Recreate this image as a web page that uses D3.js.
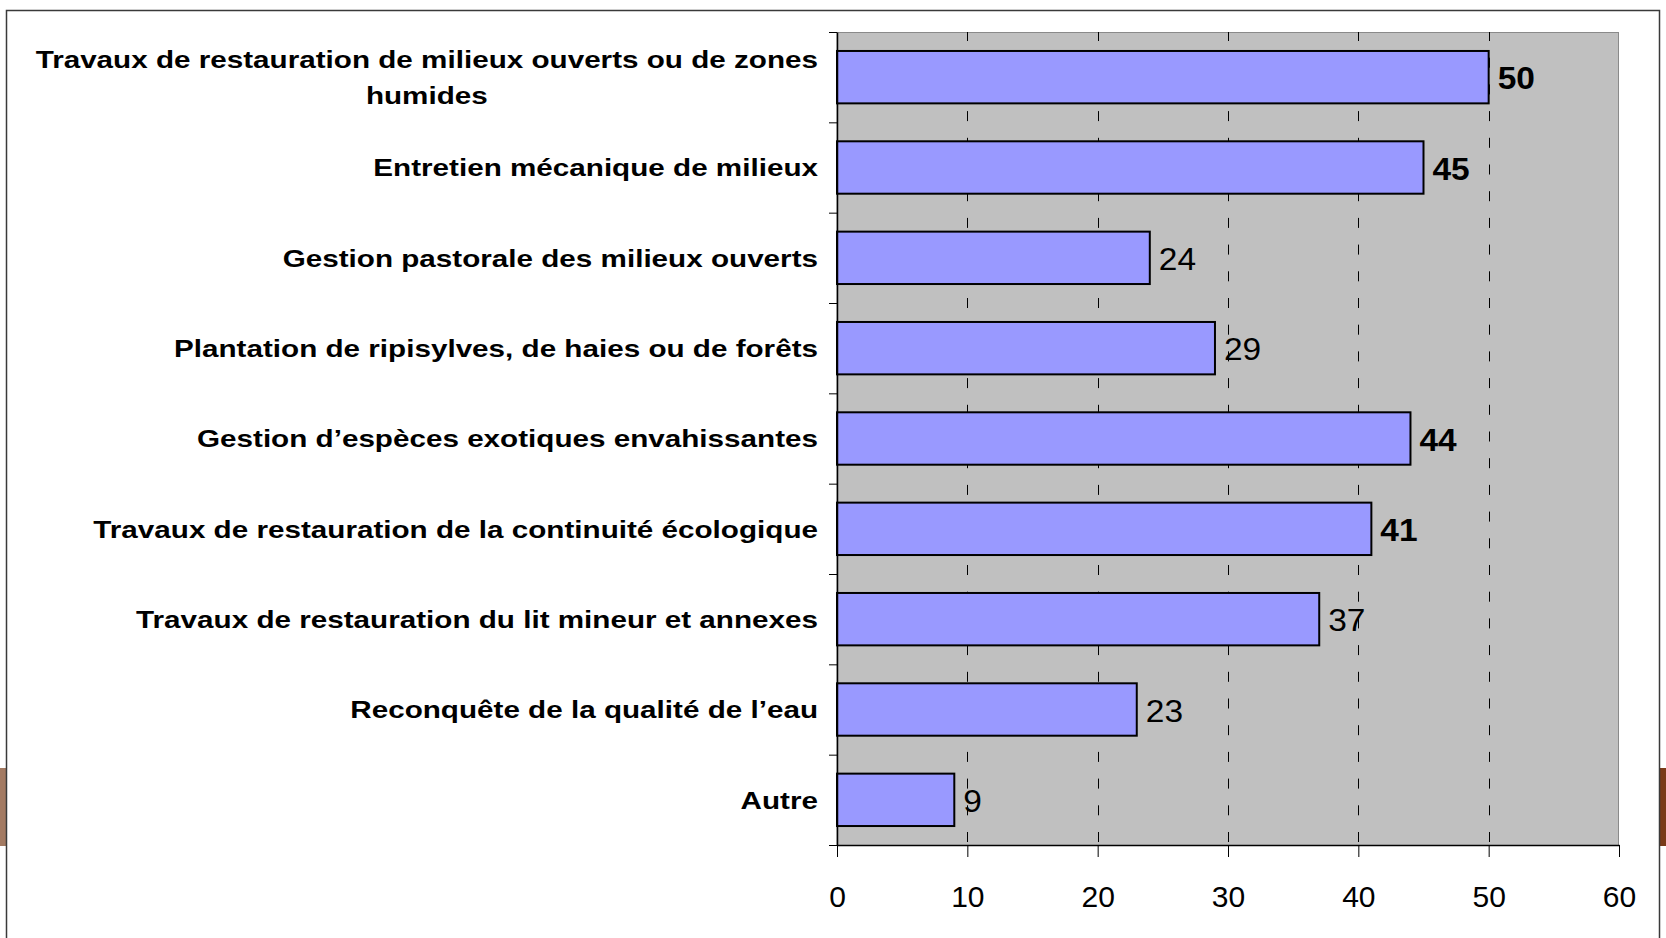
<!DOCTYPE html>
<html>
<head>
<meta charset="utf-8">
<script src="https://cdn.jsdelivr.net/npm/d3@7"></script>
<style>
  html, body { margin: 0; padding: 0; background: #fff; }
  svg { display: block; font-family: "Liberation Sans", Arial, sans-serif; }
</style>
</head>
<body>
<svg id="chart" width="1666" height="938"></svg>
<script>
// categories, top to bottom ("\n" = line break in the label)
const categories = [
  'Travaux de restauration de milieux ouverts ou de zones\nhumides',
  'Entretien mécanique de milieux',
  'Gestion pastorale des milieux ouverts',
  'Plantation de ripisylves, de haies ou de forêts',
  'Gestion d\u2019espèces exotiques envahissantes',
  'Travaux de restauration de la continuité écologique',
  'Travaux de restauration du lit mineur et annexes',
  'Reconquête de la qualité de l\u2019eau',
  'Autre'
]
const values = [50, 45, 24, 29, 44, 41, 37, 23, 9]
const xTicks = [0, 10, 20, 30, 40, 50, 60]

const svg = d3.select('#chart')
const plot = { left: 837, right: 1619, top: 32, bottom: 845 }

// slide decoration peeking out behind the chart frame
svg.append('rect').attr('x', 0).attr('y', 768).attr('width', 7).attr('height', 78).attr('fill', '#a37a62')
svg.append('rect').attr('x', 1659).attr('y', 768).attr('width', 7).attr('height', 78).attr('fill', '#7a3a18')

// chart frame
svg.append('rect')
  .attr('x', 6.5).attr('y', 10.5).attr('width', 1653).attr('height', 960)
  .attr('fill', '#fff').attr('stroke', '#3a3a3a').attr('stroke-width', 1.5)

const x = d3.scaleLinear().domain([0, 60]).range([plot.left, plot.right])
const y = d3.scaleBand().domain(categories).range([plot.top, plot.bottom])
  .paddingInner(0.42).paddingOuter(0.21)
const yEdge = d3.scaleLinear().domain([0, categories.length]).range([plot.top, plot.bottom])

// plot background
svg.append('rect')
  .attr('x', plot.left).attr('y', plot.top + 0.5)
  .attr('width', plot.right - plot.left - 0.5).attr('height', plot.bottom - plot.top)
  .attr('fill', '#c0c0c0').attr('stroke', '#8a8a8a').attr('stroke-width', 1)

// dashed gridlines
svg.append('g').selectAll('line')
  .data(xTicks.filter(d => d > 0 && d < 60))
  .join('line')
  .attr('x1', d => Math.round(x(d)) + 0.5).attr('x2', d => Math.round(x(d)) + 0.5)
  .attr('y1', plot.top).attr('y2', plot.bottom)
  .attr('stroke', '#000').attr('stroke-width', 1)
  .attr('stroke-dasharray', '10,16.7').attr('stroke-dashoffset', 1)

// bars
svg.append('g').selectAll('rect')
  .data(values)
  .join('rect')
  .attr('x', plot.left)
  .attr('y', (d, i) => y(categories[i]))
  .attr('width', d => x(d) - x(0))
  .attr('height', y.bandwidth())
  .attr('fill', '#9999ff')
  .attr('stroke', '#000').attr('stroke-width', 2)

// value labels (the big ones are in bold); the slide text is a bit stretched wide
svg.append('g').selectAll('text')
  .data(values)
  .join('text')
  .attr('transform', (d, i) => `translate(${x(d) + 9},${y(categories[i]) + y.bandwidth() / 2 + 12}) scale(1.08,1)`)
  .attr('font-size', 31)
  .attr('font-weight', d => d >= 40 ? 'bold' : 'normal')
  .attr('fill', '#000')
  .text(d => d)

// x axis
const xAxis = svg.append('g')
  .attr('transform', `translate(0,${plot.bottom})`)
  .call(d3.axisBottom(x).tickValues(xTicks).tickSizeInner(12).tickSizeOuter(0).tickPadding(29))
xAxis.selectAll('line').attr('stroke', '#000')
xAxis.select('.domain').attr('stroke', '#000').attr('stroke-width', 1.5)
xAxis.selectAll('text').attr('font-size', 30).attr('font-family', null).attr('fill', '#000')

// y axis: ticks between the categories
const yAxis = svg.append('g')
  .attr('transform', `translate(${plot.left},0)`)
  .call(d3.axisLeft(yEdge).ticks(categories.length).tickSizeInner(8).tickSizeOuter(0).tickFormat(''))
yAxis.selectAll('line').attr('stroke', '#000')
yAxis.select('.domain').attr('stroke', '#000').attr('stroke-width', 1.5)

// category labels, right aligned, multi-line blocks centred
const labelRight = 818
const labels = svg.append('g')
  .attr('transform', `translate(${labelRight},0) scale(1.21,1)`)
  .attr('font-size', 24.5).attr('font-weight', 'bold').attr('fill', '#000')
categories.forEach(c => {
  const lines = c.split('\n')
  const cy = y(c) + y.bandwidth() / 2
  const t = labels.append('text')
  const lineH = 36
  lines.forEach((ln, j) => {
    t.append('tspan')
      .attr('y', cy + 9 + (j - (lines.length - 1) / 2) * lineH)
      .text(ln)
  })
  const widths = t.selectAll('tspan').nodes().map(n => n.getComputedTextLength())
  const maxW = d3.max(widths)
  if (lines.length > 1) {
    t.attr('text-anchor', 'middle').selectAll('tspan').attr('x', -maxW / 2)
  } else {
    t.attr('text-anchor', 'end').selectAll('tspan').attr('x', 0)
  }
})
</script>
</body>
</html>
